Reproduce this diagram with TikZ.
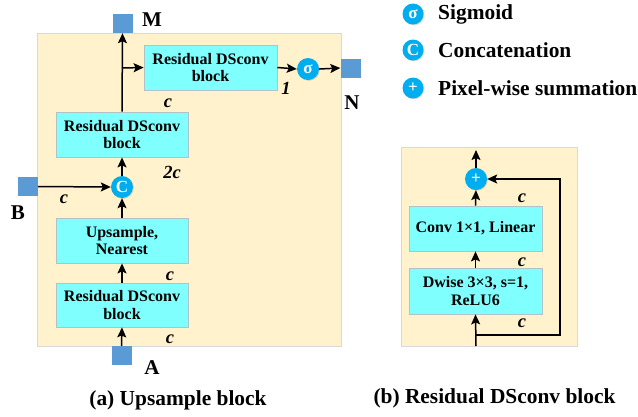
\documentclass[tikz,border=0pt]{standalone}
\usepackage{fontspec}
\setmainfont{Liberation Serif}
\usetikzlibrary{arrows.meta,shadows}
\definecolor{panelfill}{HTML}{FFF2CC}
\definecolor{panelline}{HTML}{D9D9D9}
\definecolor{boxfill}{HTML}{80FFFF}
\definecolor{boxline}{HTML}{B0C4C8}
\definecolor{opblue}{HTML}{00AEEF}
\definecolor{sqblue}{HTML}{5B9BD5}
\tikzset{
  panel/.style={fill=panelfill,draw=panelline,line width=0.8pt,drop shadow={opacity=0.15,shadow xshift=1pt,shadow yshift=-1pt}},
  blockbox/.style={rectangle,fill=boxfill,draw=boxline,line width=0.8pt,minimum width=133pt,minimum height=45pt,align=center,inner sep=1pt,font=\bfseries\fontsize{16}{17.5}\selectfont,drop shadow={opacity=0.2,shadow xshift=1pt,shadow yshift=-1pt}},
  opcirc/.style={circle,fill=opblue,draw=none,minimum size=22pt,inner sep=0pt,text=white,font=\bfseries\fontsize{17}{17}\selectfont,drop shadow={opacity=0.3,shadow xshift=0.8pt,shadow yshift=-0.8pt}},
  legcirc/.style={opcirc,minimum size=21pt},
  port/.style={rectangle,fill=sqblue,draw=none,minimum width=20pt,minimum height=19pt,inner sep=0pt},
  portlabel/.style={font=\bfseries\fontsize{21}{21}\selectfont,inner sep=0pt},
  chlabel/.style={font=\bfseries\itshape\fontsize{18.5}{18.5}\selectfont,inner sep=0pt},
  legtext/.style={anchor=west,font=\bfseries\fontsize{21.4}{21.4}\selectfont,inner sep=0pt},
  captext/.style={font=\bfseries\fontsize{21.4}{22}\selectfont,inner sep=0pt},
  flow/.style={line width=1.5pt,-{Stealth[length=10pt,width=9pt,inset=2pt]}},
  plain/.style={line width=1.5pt}
}
\begin{document}
\begin{tikzpicture}[x=1pt,y=-1pt]
\useasboundingbox (0,0) rectangle (638,416);
% panels
\path[panel] (37,33) rectangle (341,346);
\path[panel] (401,147) rectangle (577,346);
% (a) Upsample block
\node[port] (M) at (122.5,23.5) {};
\node[port] (N) at (350.5,68) {};
\node[port] (B) at (28,186.5) {};
\node[port] (A) at (121.5,355.5) {};
\node[portlabel] (Mlab) at (152,20) {M};
\node[portlabel] (Nlab) at (352,103) {N};
\node[portlabel] (Blab) at (18,213) {B};
\node[portlabel] (Alab) at (152,368) {A};
\node[blockbox] (top) at (210.5,67.5) {Residual DSconv\\block};
\node[blockbox,minimum width=132pt] (mid) at (122,134.5) {Residual DSconv\\block};
\node[blockbox,minimum width=132pt] (up) at (122,240.5) {Upsample,\\Nearest};
\node[blockbox,minimum width=132pt,minimum height=44pt] (bot) at (122,305) {Residual DSconv\\block};
\node[opcirc] (sig) at (308,69) {σ};
\node[opcirc] (cat) at (122,187) {C};
\coordinate (br) at (122,68);
\draw[flow] (A.north) -- (bot.south);
\draw[flow] (bot.north) -- (up.south);
\draw[flow] (up.north) -- (cat.south);
\draw[flow] (B.east) -- (cat.west);
\draw[flow] (cat.north) -- (mid.south);
\draw[flow] (mid.north) -- (M.south);
\draw[flow] (br) -- (top.west);
\draw[flow] (top.east) -- (sig.west);
\draw[flow] (sig.east) -- (N.west);
\node[chlabel] (l1) at (168,103) {c};
\node[chlabel] (l2) at (286,88) {1};
\node[chlabel] (l3) at (172,172) {2c};
\node[chlabel] (l4) at (64,199) {c};
\node[chlabel] (l5) at (170,276) {c};
\node[chlabel] (l6) at (170,339) {c};
% (b) Residual DSconv block
\node[opcirc] (sum) at (476,179) {+};
\node[blockbox] (conv) at (475.5,228.5) {Conv 1×1, Linear};
\node[blockbox,minimum height=46pt] (dw) at (475.5,291) {Dwise 3×3, s=1,\\ReLU6};
\coordinate (outb) at (476,150);
\coordinate (inb) at (476,346);
\coordinate (sk1) at (476,335);
\coordinate (sk2) at (560,335);
\coordinate (sk3) at (560,179);
\draw[flow] (inb) -- (dw.south);
\draw[flow] (dw.north) -- (conv.south);
\draw[flow] (conv.north) -- (sum.south);
\draw[flow] (sum.north) -- (outb);
\draw[flow] (sk1) -- (sk2) -- (sk3) -- (sum.east);
\node[chlabel] (r1) at (522,198) {c};
\node[chlabel] (r2) at (522,262) {c};
\node[chlabel] (r3) at (522,323) {c};
% legend
\node[legcirc] (lg1) at (413,14) {σ};
\node[legcirc] (lg2) at (413,50) {C};
\node[legcirc] (lg3) at (413,88) {+};
\node[legtext] (lt1) at (438,14) {Sigmoid};
\node[legtext] (lt2) at (438,50) {Concatenation};
\node[legtext] (lt3) at (438,88) {Pixel-wise summation};
% captions
\node[captext] (capa) at (178,400) {(a) Upsample block};
\node[captext] (capb) at (494.5,398) {(b) Residual DSconv block};
\end{tikzpicture}
\end{document}
